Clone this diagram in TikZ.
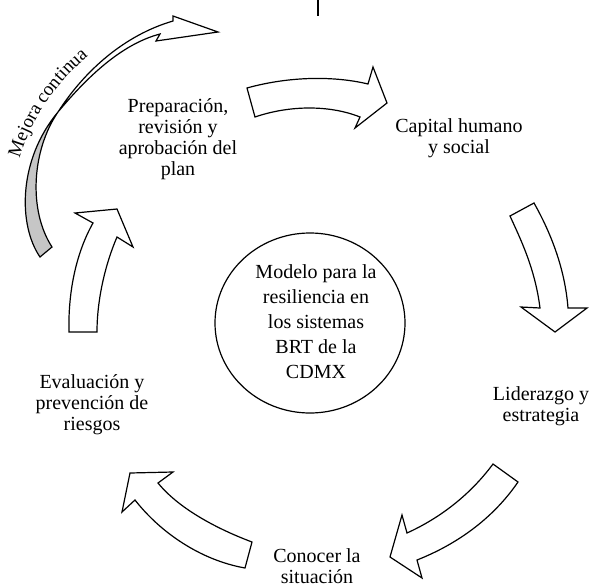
\documentclass[tikz,border=0pt]{standalone}
\usepackage{fontspec}
\setmainfont{Liberation Serif}
\usepackage{tikz}
\usetikzlibrary{shapes.geometric, decorations.text}
\tikzstyle{blockarrow} = [draw=black, line width=1.2pt, fill=white, line join=miter]
\tikzstyle{cycletext} = [align=center, font=\fontsize{20}{21}\selectfont]
\tikzstyle{model} = [ellipse, draw=black, line width=1.2pt, minimum width=190pt, minimum height=180pt, inner sep=0pt]
\tikzstyle{modeltext} = [align=center, font=\fontsize{20}{25}\selectfont]

\begin{document}
\begin{tikzpicture}[x=1pt, y=-1pt]
\useasboundingbox (0,0) rectangle (595,587);
% tick at the top
\draw[line width=2.5pt] (318,0) -- (318,16);
% mejora continua
\draw[blockarrow, fill=gray!45] (40,257) .. controls (18,225) and (18,160) .. (58,112) .. controls (32,150) and (28,210) .. (52,247) -- cycle;
\draw[blockarrow] (58,112) .. controls (85,70) and (125,35) .. (173,21) -- (173,16) -- (218,32) -- (156,41) -- (160,34) .. controls (122,44) and (88,76) .. (58,112) -- cycle;
\path[decorate, decoration={text along path, text align=center, text={|\fontsize{19}{21}\selectfont|Mejora continua}}] (17,168) .. controls (28,125) and (52,84) .. (96,50);
% the five arrows of the cycle
\draw[blockarrow] (247,88) .. controls (290,76) and (335,76) .. (368,84) -- (373,67) -- (387,103) -- (355,128) -- (360,117) .. controls (330,105) and (290,105) .. (255,117) -- cycle;
\draw[blockarrow] (534,203) .. controls (552,235) and (565,270) .. (568,308) -- (587,308) -- (555,332) -- (521,307) -- (540,308) .. controls (535,268) and (520,238) .. (510,216) -- cycle;
\draw[blockarrow] (493,464) .. controls (470,495) and (440,518) .. (407,533) -- (402,515) -- (390,557) -- (422,578) -- (417,560) .. controls (455,545) and (492,520) .. (518,482) -- cycle;
\draw[blockarrow] (252,542) .. controls (220,530) and (180,510) .. (158,483) -- (173,472) -- (130,473) -- (122,512) -- (135,500) .. controls (160,532) and (200,560) .. (245,568) -- cycle;
\draw[blockarrow] (69,332) .. controls (68,295) and (75,255) .. (93,223) -- (75,213) -- (117,209) -- (133,247) -- (117,237) .. controls (105,265) and (97,300) .. (97,332) -- cycle;
% stages
\node[cycletext] (prep) at (178,139) {Preparación,\\revisión y\\aprobación del\\plan};
\node[cycletext] (capital) at (459,138) {Capital humano\\y social};
\node[cycletext] (lider) at (541,406) {Liderazgo y\\estrategia};
\node[cycletext] (conocer) at (317,566) {Conocer la\\situación};
\node[cycletext] (eval) at (92,405) {Evaluación y\\prevención de\\riesgos};
\node[model] (circulo) at (310,323) {};
\node[modeltext] (modelo) at (316,322) {Modelo para la\\resiliencia en\\los sistemas\\BRT de la\\CDMX};
\end{tikzpicture}
\end{document}
